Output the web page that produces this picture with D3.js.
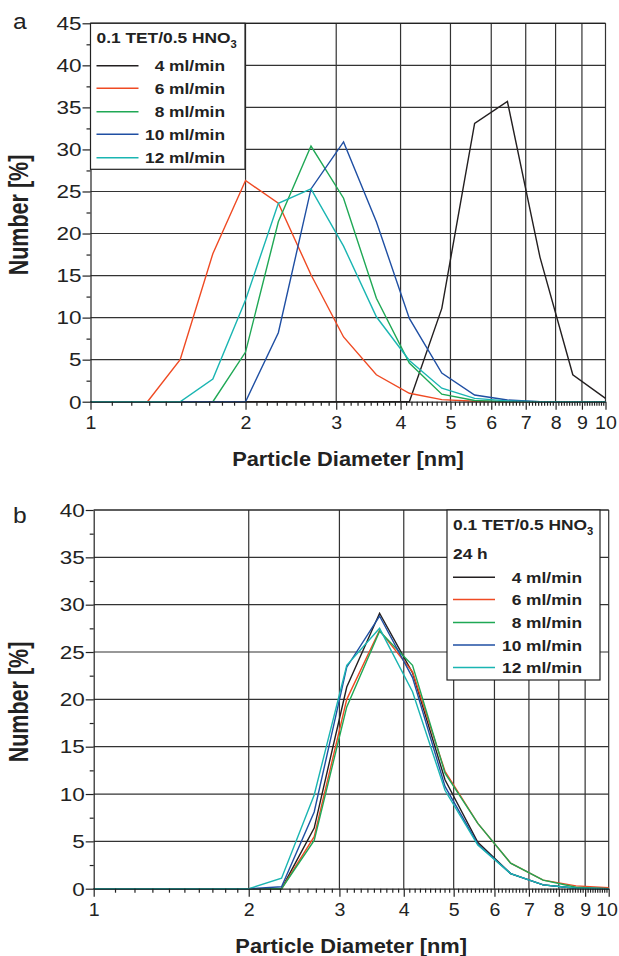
<!DOCTYPE html>
<html>
<head>
<meta charset="utf-8">
<title>Particle size distributions</title>
<style>
    body { margin: 0; background: #fff; }
    svg { display: block; }
    .grid line { stroke: #333; stroke-width: 1.2; }
    .axis path, .axis line { stroke: #222; stroke-width: 1.2; }
    .axis text { font-family: "Liberation Sans", Arial, sans-serif; font-size: 18px; fill: #222; }
    .xaxis text { font-size: 17.5px; }
    .lab { font-family: "Liberation Sans", Arial, sans-serif; fill: #222; }
</style>
</head>
<body>
<script src="https://cdn.jsdelivr.net/npm/d3@7/dist/d3.min.js"></script>
<script type="text/javascript">
    // x sample points (particle diameter, nm) - same for both panels
    var diam = [1.0, 1.114, 1.29, 1.493, 1.728, 2.0, 2.316, 2.68, 3.10, 3.59, 4.16, 4.81, 5.57, 6.45, 7.46, 8.64, 10.0];

    var seriesNames = ["4 ml/min", "6 ml/min", "8 ml/min", "10 ml/min", "12 ml/min"];
    var seriesColors = ["#231f20", "#ef4a23", "#1fa855", "#1f4fa3", "#1ab5b2"];

    // panel a : number [%]
    var a4  = [0, 0, 0, 0, 0, 0, 0, 0, 0, 0, 0, 11.1, 33.1, 35.7, 17.2, 3.2, 0.4];
    var a6  = [0, 0, 0, 5.0, 17.6, 26.3, 23.6, 15.1, 7.7, 3.2, 1.0, 0.25, 0.05, 0, 0, 0, 0];
    var a8  = [0, 0, 0, 0, 0, 5.9, 21.4, 30.4, 24.2, 12.3, 4.6, 0.9, 0.15, 0, 0, 0, 0];
    var a10 = [0, 0, 0, 0, 0, 0, 8.2, 25.3, 30.9, 21.4, 9.9, 3.4, 0.8, 0.2, 0, 0, 0];
    var a12 = [0, 0, 0, 0, 2.7, 12.1, 23.6, 25.3, 18.5, 10.1, 4.9, 1.6, 0.4, 0.1, 0, 0, 0];

    // panel b : 24 h
    var b4  = [0, 0, 0, 0, 0, 0, 0, 6.4, 21.3, 29.1, 22.8, 11.5, 4.9, 1.6, 0.4, 0.05, 0];
    var b6  = [0, 0, 0, 0, 0, 0, 0, 5.5, 20.0, 27.3, 22.9, 12.4, 6.9, 2.7, 0.9, 0.3, 0.1];
    var b8  = [0, 0, 0, 0, 0, 0, 0, 5.1, 19.2, 27.2, 23.6, 12.2, 6.9, 2.7, 0.9, 0.15, 0];
    var b10 = [0, 0, 0, 0, 0, 0, 0.2, 8.1, 23.4, 28.8, 22.3, 10.8, 4.7, 1.6, 0.4, 0.05, 0];
    var b12 = [0, 0, 0, 0, 0, 0, 1.1, 9.9, 23.6, 27.5, 20.8, 10.4, 4.6, 1.6, 0.4, 0.05, 0];

    var xTicks = [1, 2, 3, 4, 5, 6, 7, 8, 9, 10];
    var yTicksA = [0, 5, 10, 15, 20, 25, 30, 35, 40, 45];
    var yTicksB = [0, 5, 10, 15, 20, 25, 30, 35, 40];

    // the original figure is stretched sideways, so text gets a horizontal scale
    var sxTick = 1.25, sxXTick = 1.12, sxText = 1.12, sxYTitle = 1.25;

    var svg = d3.select("body").append("svg")
        .attr("width", 619)
        .attr("height", 956);

    function stretchText(sel, x, y, txt, size, weight, anchor, sx) {
        return sel.append("text")
            .attr("class", "lab")
            .attr("transform", "translate(" + x + "," + y + ") scale(" + (sx || sxText) + ",1)")
            .attr("text-anchor", anchor || "start")
            .style("font-size", size + "px")
            .style("font-weight", weight || "normal")
            .text(txt);
    }

    function drawPanel(p) {
        var x = d3.scaleLog().domain([1, 10]).range([p.left, p.right]);
        var y = d3.scaleLinear().domain([0, p.ymax]).range([p.bottom, p.top]);
        var g = svg.append("g");

        // grid
        var grid = g.append("g").attr("class", "grid");
        grid.selectAll(".v").data(xTicks.slice(1, -1)).enter().append("line")
            .attr("x1", function (d) { return x(d); }).attr("x2", function (d) { return x(d); })
            .attr("y1", p.top).attr("y2", p.bottom);
        grid.selectAll(".h").data(p.yTicks.slice(1)).enter().append("line")
            .attr("x1", p.left).attr("x2", p.right)
            .attr("y1", function (d) { return y(d); }).attr("y2", function (d) { return y(d); });
        grid.append("line").attr("x1", p.right).attr("x2", p.right).attr("y1", p.top).attr("y2", p.bottom);

        // lines
        var line = d3.line()
            .x(function (d) { return x(d[0]); })
            .y(function (d) { return y(d[1]); });
        p.series.forEach(function (s, i) {
            g.append("path")
                .datum(diam.map(function (d, k) { return [d, s[k]]; }))
                .attr("fill", "none")
                .attr("stroke", seriesColors[i])
                .attr("stroke-width", 1.4)
                .attr("d", line);
        });

        // minor ticks
        var xMinor = d3.range(11, 100).map(function (v) { return v / 10; })
            .filter(function (v) { return Math.abs(v - Math.round(v)) > 1e-6; });
        g.append("g").attr("class", "axis")
            .attr("transform", "translate(0," + p.bottom + ")")
            .call(d3.axisBottom(x).tickValues(xMinor).tickSize(4).tickFormat(""))
            .select(".domain").remove();
        var yMinor = p.yTicks.slice(0, -1).map(function (v) { return v + 2.5; });
        g.append("g").attr("class", "axis")
            .attr("transform", "translate(" + p.left + ",0)")
            .call(d3.axisLeft(y).tickValues(yMinor).tickSize(4).tickFormat(""))
            .select(".domain").remove();

        // major axes
        var xa = g.append("g").attr("class", "axis xaxis")
            .attr("transform", "translate(0," + p.bottom + ")")
            .call(d3.axisBottom(x).tickValues(xTicks).tickSize(8).tickSizeOuter(0).tickFormat(d3.format("d")));
        xa.selectAll("text").attr("y", 27).attr("dy", 0).attr("transform", "scale(" + sxXTick + ",1)");
        // keep the "10" label inside the page
        xa.selectAll("text").filter(function (d) { return d === 10; }).each(function () {
            var w = this.getBBox().width * sxXTick;
            if (p.right + w / 2 > 617.5) {
                d3.select(this).attr("text-anchor", "end").attr("x", (617.5 - p.right) / sxXTick);
            }
        });
        var ya = g.append("g").attr("class", "axis")
            .attr("transform", "translate(" + p.left + ",0)")
            .call(d3.axisLeft(y).tickValues(p.yTicks).tickSize(8).tickSizeOuter(0));
        ya.selectAll("text").attr("x", -9 / sxTick).attr("dy", "0.35em").attr("transform", "scale(" + sxTick + ",1)");
        g.append("line").attr("x1", p.left).attr("x2", p.right).attr("y1", p.top).attr("y2", p.top)
            .attr("stroke", "#222").attr("stroke-width", 1.2);

        // titles
        stretchText(g, (p.left + p.right) / 2, p.bottom + 64, "Particle Diameter [nm]", 19.5, "bold", "middle");
        g.append("text")
            .attr("class", "lab")
            .attr("transform", "translate(27.5," + p.ytY + ") scale(" + sxYTitle + ",1) rotate(-90)")
            .attr("text-anchor", "middle")
            .style("font-size", "21.5px")
            .style("font-weight", "bold")
            .text("Number [%]");
        stretchText(g, p.labx, p.laby, p.label, 22, "normal", "start");

        // legend
        var L = p.legend;
        g.append("rect")
            .attr("x", L.x0).attr("y", L.y0)
            .attr("width", L.x1 - L.x0).attr("height", L.y1 - L.y0)
            .attr("fill", "#fff").attr("stroke", "#222").attr("stroke-width", 1.2);
        var t = stretchText(g, L.x0 + 6, L.titleY, "0.1 TET/0.5 HNO", 15.5, "bold", "start");
        t.append("tspan").attr("dy", 5).style("font-size", "10px").text("3");
        if (L.sub) stretchText(g, L.x0 + 6, L.subY, L.sub, 15.5, "bold", "start");
        seriesNames.forEach(function (n, i) {
            var yy = L.rowY[i];
            g.append("line")
                .attr("x1", L.x0 + 6).attr("x2", L.x0 + 48)
                .attr("y1", yy).attr("y2", yy)
                .attr("stroke", seriesColors[i]).attr("stroke-width", 1.4);
            stretchText(g, L.textR, yy + 5.5, n, 15.5, "bold", "end");
        });
    }

    drawPanel({
        left: 90.5, right: 605.5, top: 23.3, bottom: 401.7, ymax: 45, yTicks: yTicksA,
        series: [a4, a6, a8, a10, a12],
        ytY: 215, label: "a", labx: 13, laby: 29,
        legend: { x0: 90.5, x1: 245, y0: 23.3, y1: 169.3, titleY: 43, textR: 225,
                  rowY: [65.7, 88.3, 111.7, 134.3, 157.7] }
    });
    drawPanel({
        left: 93.7, right: 608.7, top: 510, bottom: 888.7, ymax: 40, yTicks: yTicksB,
        series: [b4, b6, b8, b10, b12],
        ytY: 702, label: "b", labx: 13, laby: 523,
        legend: { x0: 447, x1: 600, y0: 510, y1: 680, titleY: 530, sub: "24 h", subY: 559, textR: 582,
                  rowY: [577.3, 599.5, 622.5, 645, 667.5] }
    });
</script>
</body>
</html>
